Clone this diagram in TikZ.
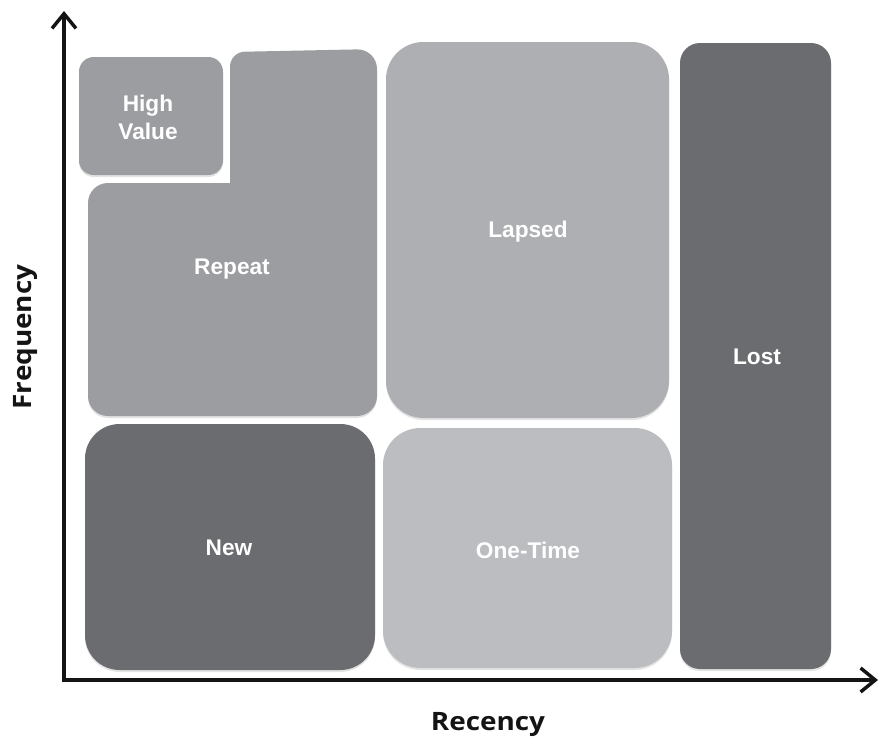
\documentclass[tikz,border=0pt]{standalone}
\usepackage{fontspec}
\setmainfont{Liberation Sans}
\newfontfamily\axisfont{Open Sans}
\usetikzlibrary{arrows.meta,shadows}

\definecolor{segmid}{HTML}{9C9DA1}
\definecolor{seglight}{HTML}{AEAFB3}
\definecolor{segpale}{HTML}{BCBDC1}
\definecolor{segdark}{HTML}{6B6C70}
\definecolor{axisink}{HTML}{141414}

\tikzset{
  segment/.style={drop shadow={shadow xshift=0pt,shadow yshift=-1.5pt,opacity=0.22}},
  seglabel/.style={text=white,align=center,inner sep=0pt,
    font=\bfseries\fontsize{17}{21}\selectfont},
  axisline/.style={draw=axisink,line width=2.8pt,line join=miter,
    {Straight Barb[length=11pt,width=18pt,line width=2.6pt]}-{Straight Barb[length=11pt,width=18pt,line width=2.6pt]}},
  axistitle/.style={text=axisink,inner sep=0pt,
    font=\axisfont\bfseries\fontsize{19}{22}\selectfont}
}

\begin{document}
\begin{tikzpicture}[x=0.75pt,y=-0.75pt]
\useasboundingbox[fill=white] (0,0) rectangle (879,740);

% customer segments
\fill[segmid,segment,rounded corners=11pt] (79,57) rectangle (223,175);
% L-shaped block: the corner rounding follows the setting of the segment reaching it
\fill[segmid,segment]
  (159,183) -- (230,183)
  [rounded corners=11pt] -- (230,52)
  [rounded corners=15pt] -- (377,49) -- (377,416) -- (88,416) -- (88,183)
  -- cycle;
\fill[seglight,segment,rounded corners=28pt] (386,42) rectangle (669,418);
\fill[segdark,segment,rounded corners=15pt] (680,43) rectangle (831,669);
\fill[segdark,segment,rounded corners=26pt] (85,424) rectangle (375,670);
\fill[segpale,segment,rounded corners=28pt] (383,428) rectangle (672,668);

% segment names
\node[seglabel] (highvalue) at (148,117) {High\\Value};
\node[seglabel] (repeat) at (232,269) {Repeat};
\node[seglabel] (lapsed) at (528,232) {Lapsed};
\node[seglabel] (lost) at (757,357) {Lost};
\node[seglabel] (new) at (229,548) {New};
\node[seglabel] (onetime) at (528,550) {One-Time};

% axes
\coordinate (origin) at (64,680);
\coordinate (ytip) at (64,11);
\coordinate (xtip) at (878,680);
\draw[axisline] (ytip) -- (origin) -- (xtip);

\node[axistitle] (recency) at (488,724) {\scalebox{1.1}[1]{Recency}};
\node[axistitle,rotate=90] (frequency) at (26,337) {\scalebox{1.1}[1]{Frequency}};
\end{tikzpicture}
\end{document}
